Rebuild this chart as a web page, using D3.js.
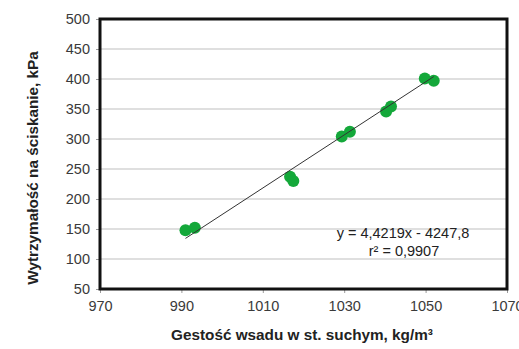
<!DOCTYPE html>
<html>
<head>
<meta charset="utf-8">
<script src="https://cdn.jsdelivr.net/npm/d3@7"></script>
<style>
  html, body { margin: 0; padding: 0; background: #fff; }
  svg { display: block; font-family: "Liberation Sans", Arial, sans-serif; }
</style>
</head>
<body>
<svg id="chart" width="519" height="349"></svg>
<script>
// Bulk density (dry basis) vs. compressive strength
const density = [991.0, 993.3, 1016.7, 1017.5, 1029.4, 1031.4, 1040.3, 1041.5, 1049.8, 1052.0];
const strength = [148, 152, 237, 230, 304, 312, 346, 354, 401, 397];

const xTicks = [970, 990, 1010, 1030, 1050, 1070];
const yTicks = [50, 100, 150, 200, 250, 300, 350, 400, 450, 500];

// Linear trend: y = a·x + b
const slope = 4.4219;
const intercept = -4247.8;
const rSquared = "0,9907";

const svg = d3.select("#chart");
const m = { left: 100, right: 12, top: 19, bottom: 60 };
const W = 519, H = 349;
const x = d3.scaleLinear().domain([970, 1070]).range([m.left, W - m.right]);
const y = d3.scaleLinear().domain([50, 500]).range([H - m.bottom, m.top]);

// horizontal gridlines
svg.append("g").selectAll("line").data(yTicks.slice(1, -1)).join("line")
  .attr("x1", x(970)).attr("x2", x(1070))
  .attr("y1", d => y(d)).attr("y2", d => y(d))
  .attr("stroke", "#d4d4d4").attr("stroke-width", 1.5);

// axes
const yAxis = svg.append("g").attr("transform", `translate(${x(970)},0)`)
  .call(d3.axisLeft(y).tickValues(yTicks).tickSize(4).tickPadding(6));
const xAxis = svg.append("g").attr("transform", `translate(0,${y(50)})`)
  .call(d3.axisBottom(x).tickValues(xTicks).tickSize(4).tickPadding(8).tickFormat(d3.format("d")));
[yAxis, xAxis].forEach(g => {
  g.select(".domain").remove();
  g.selectAll(".tick line").attr("stroke", "#9a9a9a").attr("stroke-width", 1);
  g.selectAll(".tick text").attr("fill", "#3a3a3a")
    .style("font-size", "14.5px").style("font-family", "'Liberation Sans', Arial, sans-serif");
});

// plot frame
svg.append("rect")
  .attr("x", x(970)).attr("y", y(500))
  .attr("width", x(1070) - x(970)).attr("height", y(50) - y(500))
  .attr("fill", "none").attr("stroke", "#111").attr("stroke-width", 3);

// markers
svg.append("g").selectAll("circle").data(density.map((d, i) => [d, strength[i]])).join("circle")
  .attr("cx", d => x(d[0])).attr("cy", d => y(d[1])).attr("r", 6)
  .attr("fill", "#14a83a");

// trendline over the data range
const xmin = d3.min(density), xmax = d3.max(density);
svg.append("line")
  .attr("x1", x(xmin)).attr("y1", y(slope * xmin + intercept))
  .attr("x2", x(xmax)).attr("y2", y(slope * xmax + intercept))
  .attr("stroke", "#333").attr("stroke-width", 1);

// equation labels
const eq = svg.append("g").attr("fill", "#222").style("font-size", "14.5px").attr("text-anchor", "middle");
eq.append("text").attr("x", 403).attr("y", 238)
  .text(`y = ${String(slope).replace(".", ",")}x - ${String(-intercept).replace(".", ",")}`);
eq.append("text").attr("x", 404).attr("y", 256).text(`r² = ${rSquared}`);

// axis titles
svg.append("text").attr("x", 302).attr("y", 340).attr("text-anchor", "middle")
  .attr("fill", "#222").style("font-size", "15.3px").style("font-weight", "bold")
  .text("Gestość wsadu w st. suchym, kg/m³");
svg.append("text").attr("transform", "translate(38,168) rotate(-90)").attr("text-anchor", "middle")
  .attr("fill", "#222").style("font-size", "15.3px").style("font-weight", "bold")
  .text("Wytrzymałość na ściskanie, kPa");
</script>
</body>
</html>
